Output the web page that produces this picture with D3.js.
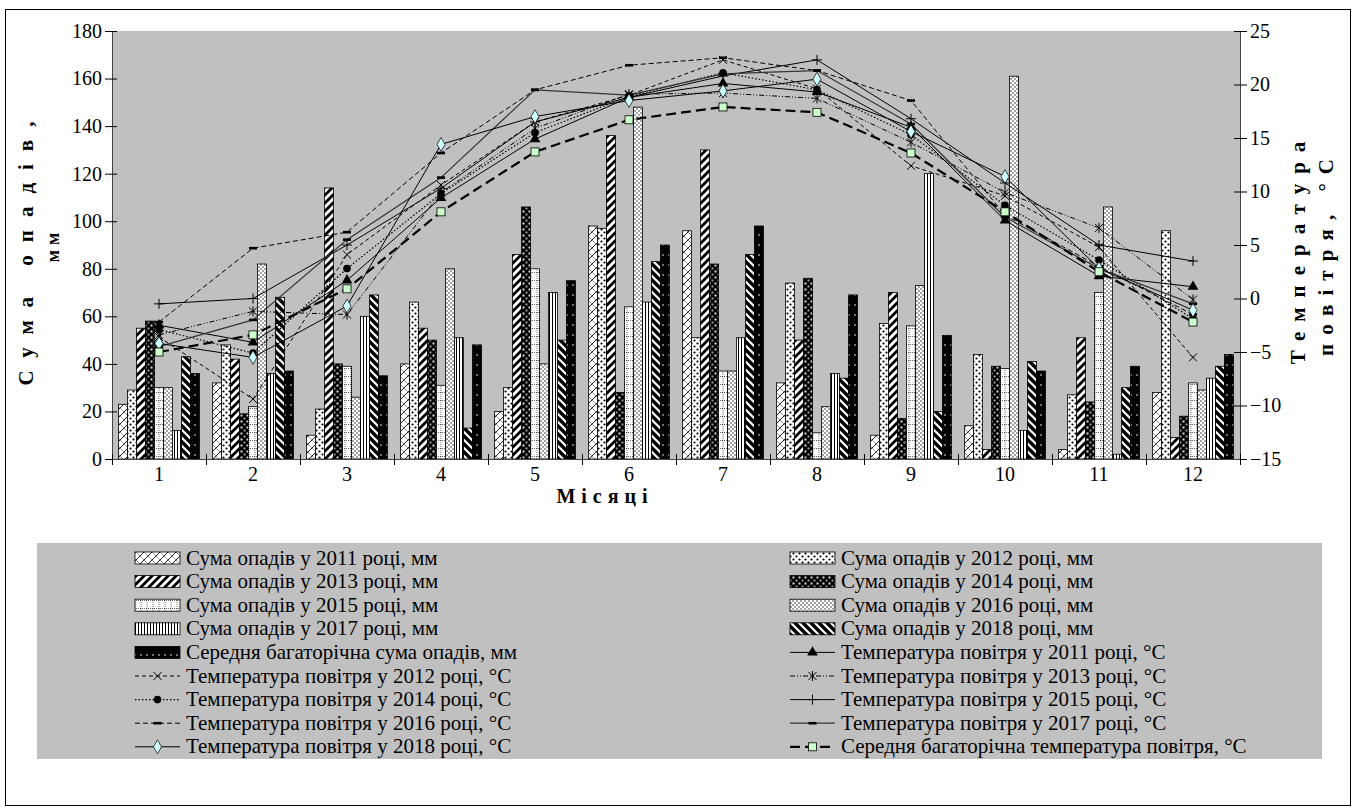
<!DOCTYPE html>
<html>
<head>
<meta charset="utf-8">
<script src="https://cdn.jsdelivr.net/npm/d3@7"></script>
<style>
body { margin: 0; background: #fff; }
svg { display: block; }
svg text { font-family: "Liberation Serif", "Times New Roman", "DejaVu Serif", serif !important; fill: #000; }
</style>
</head>
<body>
<svg id="chart" width="1357" height="812" font-family="Liberation Serif, serif"></svg>
<script>
// ---- data ----
const months = [1, 2, 3, 4, 5, 6, 7, 8, 9, 10, 11, 12];
const rainTicks = [0, 20, 40, 60, 80, 100, 120, 140, 160, 180];
const tempTicks = [-15, -10, -5, 0, 5, 10, 15, 20, 25];

const rain2011 = [23, 32, 10, 40, 20, 98, 96, 32, 10, 14, 4, 28];
const rain2012 = [29, 48, 21, 66, 30, 97, 51, 74, 57, 44, 27, 96];
const rain2013 = [55, 42, 114, 55, 86, 136, 130, 50, 70, 4, 51, 9];
const rain2014 = [58, 19, 40, 50, 106, 28, 82, 76, 17, 39, 24, 18];
const rain2015 = [30, 22, 39, 31, 80, 64, 37, 11, 56, 38, 70, 32];
const rain2016 = [30, 82, 26, 80, 40, 148, 37, 22, 73, 161, 106, 29];
const rain2017 = [12, 36, 60, 51, 70, 66, 51, 36, 120, 12, 2, 34];
const rain2018 = [43, 68, 69, 13, 50, 83, 86, 34, 20, 41, 30, 39];
const rainAvg  = [36, 37, 35, 48, 75, 90, 98, 69, 52, 37, 39, 44];

const temp2011 = [-2.5, -4.1, 1.7, 9.4, 14.9, 18.8, 20.1, 19.3, 16.0, 7.3, 2.1, 1.1];
const temp2012 = [-3.6, -9.4, 4.1, 10.6, 16.5, 19.0, 22.3, 19.6, 12.4, 9.6, 4.8, -5.5];
const temp2013 = [-3.4, -1.2, -1.5, 9.9, 15.9, 19.1, 19.2, 18.7, 14.6, 9.9, 6.6, -0.1];
const temp2014 = [-2.9, -5.1, 2.8, 9.8, 15.5, 18.9, 21.1, 19.5, 15.3, 8.7, 3.6, -1.9];
const temp2015 = [-0.5, 0.0, 5.0, 10.3, 16.5, 18.8, 20.8, 22.3, 16.8, 10.8, 5.0, 3.5];
const temp2016 = [-2.2, 4.7, 6.2, 13.6, 19.5, 21.8, 22.5, 21.3, 18.5, 7.8, 3.0, -1.5];
const temp2017 = [-4.5, -2.0, 5.5, 11.3, 19.5, 19.0, 21.0, 21.3, 16.3, 7.6, 2.8, -0.5];
const temp2018 = [-4.2, -5.5, -0.7, 14.4, 17.0, 18.5, 19.4, 20.5, 15.6, 11.4, 2.8, -1.1];
const tempAvg  = [-5.0, -3.4, 0.9, 8.1, 13.7, 16.7, 17.9, 17.4, 13.6, 8.1, 2.5, -2.2];

const barSeries = [
  {name: "Сума опадів у 2011 році, мм", values: rain2011, fill: "p2011"},
  {name: "Сума опадів у 2012 році, мм", values: rain2012, fill: "p2012"},
  {name: "Сума опадів у 2013 році, мм", values: rain2013, fill: "p2013"},
  {name: "Сума опадів у 2014 році, мм", values: rain2014, fill: "p2014"},
  {name: "Сума опадів у 2015 році, мм", values: rain2015, fill: "p2015"},
  {name: "Сума опадів у 2016 році, мм", values: rain2016, fill: "p2016"},
  {name: "Сума опадів у 2017 році, мм", values: rain2017, fill: "p2017"},
  {name: "Сума опадів у 2018 році, мм", values: rain2018, fill: "p2018"},
  {name: "Середня багаторічна сума опадів, мм", values: rainAvg, fill: "pavg"}
];
const lineSeries = [
  {name: "Температура повітря у 2011 році, °С", values: temp2011, dash: null, mark: "tri", color: "#000", w: 1},
  {name: "Температура повітря у 2012 році, °С", values: temp2012, dash: "4,3", mark: "x", color: "#000", w: 1},
  {name: "Температура повітря у 2013 році, °С", values: temp2013, dash: "5,2,1,2,1,2", mark: "star", color: "#000", w: 1},
  {name: "Температура повітря у 2014 році, °С", values: temp2014, dash: "1.5,2", mark: "circle", color: "#000", w: 1.2},
  {name: "Температура повітря у 2015 році, °С", values: temp2015, dash: null, mark: "plus", color: "#000", w: 1},
  {name: "Температура повітря у 2016 році, °С", values: temp2016, dash: "5,3", mark: "dash", color: "#000", w: 1},
  {name: "Температура повітря у 2017 році, °С", values: temp2017, dash: null, mark: "dash", color: "#333", w: 1.2},
  {name: "Температура повітря у 2018 році, °С", values: temp2018, dash: null, mark: "diamond", color: "#000", w: 1},
  {name: "Середня багаторічна температура повітря, °С", values: tempAvg, dash: "10,5", mark: "square", color: "#000", w: 2.2}
];

// ---- layout ----
const svg = d3.select("#chart");
const L = 112, R = 1240, T = 31, B = 459;
const FONT = "'Liberation Serif', 'Times New Roman', 'DejaVu Serif', serif";

const x0 = d3.scaleBand().domain(months).range([L, R]).paddingInner(0.14).paddingOuter(0.07);
const x1 = d3.scaleBand().domain(d3.range(barSeries.length)).range([0, x0.bandwidth()]);
const yR = d3.scaleLinear().domain([0, 180]).range([B, T]);
const yT = d3.scaleLinear().domain([-15, 25]).range([B, T]);
const xEdge = d3.scaleLinear().domain([0, 12]).range([L, R]);

// ---- patterns ----
const defs = svg.append("defs");
function pat(id, w, h, bg, draw) {
  const p = defs.append("pattern").attr("id", id)
    .attr("patternUnits", "userSpaceOnUse").attr("width", w).attr("height", h);
  p.append("rect").attr("width", w).attr("height", h).attr("fill", bg);
  draw(p);
}
pat("p2011", 8, 8, "#fff", p => {
  p.append("path").attr("d", "M0,8L8,0M-2,2L2,-2M6,10L10,6").attr("stroke", "#000").attr("stroke-width", 0.9);
  p.append("path").attr("d", "M0,0L8,8").attr("stroke", "#000").attr("stroke-width", 0.4);
});
pat("p2012", 6, 6, "#fff", p => {
  p.append("circle").attr("cx", 1.5).attr("cy", 1.5).attr("r", 1.1).attr("fill", "#000");
  p.append("circle").attr("cx", 4.5).attr("cy", 4.5).attr("r", 1.1).attr("fill", "#000");
});
pat("p2013", 8, 8, "#fff", p => {
  p.append("path").attr("d", "M0,8L8,0M-4,4L4,-4M4,12L12,4").attr("stroke", "#000").attr("stroke-width", 2.8);
});
pat("p2014", 6, 6, "#000", p => {
  p.append("rect").attr("x", 0.5).attr("y", 0.5).attr("width", 2).attr("height", 2).attr("fill", "#ddd");
  p.append("rect").attr("x", 3.5).attr("y", 3.5).attr("width", 2).attr("height", 2).attr("fill", "#999");
});
pat("p2015", 6, 8, "#fff", p => {
  p.append("path").attr("d", "M0,0.5H6M3,0V8").attr("stroke", "#000").attr("stroke-width", 0.6).attr("stroke-dasharray", "1,1");
});
pat("p2016", 4, 4, "#fff", p => {
  p.append("circle").attr("cx", 1).attr("cy", 1).attr("r", 0.7).attr("fill", "#000");
  p.append("circle").attr("cx", 3).attr("cy", 3).attr("r", 0.7).attr("fill", "#000");
});
pat("p2017", 3, 4, "#fff", p => {
  p.append("rect").attr("x", 0).attr("width", 1).attr("height", 4).attr("fill", "#000");
});
pat("p2018", 8, 8, "#000", p => {
  p.append("path").attr("d", "M0,0L8,8M-4,4L4,12M4,-4L12,4").attr("stroke", "#fff").attr("stroke-width", 2.2);
});
pat("pavg", 6, 10, "#000", p => {
  p.append("circle").attr("cx", 3).attr("cy", 5).attr("r", 0.8).attr("fill", "#fff");
});

// ---- frame + plot background ----
svg.append("rect").attr("x", 5.5).attr("y", 9.5).attr("width", 1345).attr("height", 796)
  .attr("fill", "#fff").attr("stroke", "#000");
svg.append("rect").attr("x", L).attr("y", T).attr("width", R - L).attr("height", B - T).attr("fill", "#c0c0c0");

// ---- bars ----
const barG = svg.append("g");
barSeries.forEach((s, si) => {
  barG.append("g").selectAll("rect").data(s.values).enter().append("rect")
    .attr("x", (d, i) => x0(months[i]) + x1(si))
    .attr("y", d => yR(d))
    .attr("width", x1.bandwidth())
    .attr("height", d => yR(0) - yR(d))
    .attr("fill", "url(#" + s.fill + ")")
    .attr("stroke", "#000").attr("stroke-width", 0.8);
});

// ---- markers ----
function marker(g, type, x, y) {
  if (type === "tri") {
    g.append("path").attr("d", d3.symbol(d3.symbolTriangle, 50)()).attr("transform", `translate(${x},${y})`).attr("fill", "#000");
  } else if (type === "circle") {
    g.append("circle").attr("cx", x).attr("cy", y).attr("r", 3.8).attr("fill", "#000");
  } else if (type === "diamond") {
    g.append("path").attr("d", d3.symbol(d3.symbolDiamond, 55)()).attr("transform", `translate(${x},${y})`)
      .attr("fill", "#ccffff").attr("stroke", "#000").attr("stroke-width", 0.7);
  } else if (type === "square") {
    g.append("rect").attr("x", x - 4).attr("y", y - 4).attr("width", 8).attr("height", 8)
      .attr("fill", "#ccffcc").attr("stroke", "#000").attr("stroke-width", 0.8);
  } else if (type === "x") {
    g.append("path").attr("d", `M${x-4},${y-4}L${x+4},${y+4}M${x-4},${y+4}L${x+4},${y-4}`).attr("stroke", "#000").attr("stroke-width", 1);
  } else if (type === "star") {
    g.append("path").attr("d", `M${x-4},${y-4}L${x+4},${y+4}M${x-4},${y+4}L${x+4},${y-4}M${x},${y-5}V${y+5}`).attr("stroke", "#000").attr("stroke-width", 1);
  } else if (type === "plus") {
    g.append("path").attr("d", `M${x-5},${y}H${x+5}M${x},${y-5}V${y+5}`).attr("stroke", "#000").attr("stroke-width", 1);
  } else if (type === "dash") {
    g.append("rect").attr("x", x - 4).attr("y", y - 1.3).attr("width", 8).attr("height", 2.6).attr("fill", "#000");
  }
}

// ---- lines ----
const xc = m => x0(m) + x0.bandwidth() / 2;
const line = d3.line().x((d, i) => xc(months[i])).y(d => yT(d));
const lineG = svg.append("g");
lineSeries.forEach(s => {
  lineG.append("path").datum(s.values).attr("d", line)
    .attr("fill", "none").attr("stroke", s.color).attr("stroke-width", s.w)
    .attr("stroke-dasharray", s.dash);
});
lineSeries.forEach(s => {
  const g = lineG.append("g");
  s.values.forEach((v, i) => marker(g, s.mark, xc(months[i]), yT(v)));
});

// ---- axes ----
const axL = svg.append("g").attr("transform", `translate(${L},0)`)
  .call(d3.axisLeft(yR).tickValues(rainTicks).tickSizeInner(7).tickSizeOuter(0).tickPadding(3));
axL.selectAll(".tick line").attr("x1", 5);
const axR = svg.append("g").attr("transform", `translate(${R},0)`)
  .call(d3.axisRight(yT).tickValues(tempTicks).tickSizeInner(7).tickSizeOuter(0).tickPadding(3));
axR.selectAll(".tick line").attr("x1", -6);
const axB = svg.append("g").attr("transform", `translate(0,${B})`)
  .call(d3.axisBottom(xEdge).tickValues(d3.range(0, 13)).tickFormat("").tickSizeInner(6).tickSizeOuter(0));
axB.selectAll(".tick line").attr("y1", -5);
[axL, axR, axB].forEach(a => {
  a.attr("font-family", FONT).attr("font-size", 20);
  a.select(".domain").attr("stroke", "#444");
  a.selectAll(".tick line").attr("stroke", "#000");
  a.selectAll("text").attr("fill", "#000");
});
svg.append("g").selectAll("text").data(months).enter().append("text")
  .attr("x", d => xc(d)).attr("y", 481).attr("text-anchor", "middle")
  .attr("font-family", FONT).attr("font-size", 20).text(d => d);

// ---- titles ----
function title(tr, size, spacing, txt) {
  svg.append("text").attr("transform", tr).attr("text-anchor", "middle")
    .attr("font-family", FONT).attr("font-size", size).attr("font-weight", "bold")
    .style("letter-spacing", spacing + "px").text(txt);
}
title("translate(605,503)", 20, 6, "Місяці");
title("translate(33,247) rotate(-90)", 21, 13, "Сума опадів,");
title("translate(59,245) rotate(-90)", 18, 5, "мм");
title("translate(1305,248) rotate(-90)", 21, 10, "Температура");
title("translate(1333,253) rotate(-90)", 21, 9, "повітря, °С");

// ---- legend ----
svg.append("rect").attr("x", 37).attr("y", 543).attr("width", 1285).attr("height", 216).attr("fill", "#c0c0c0");
const items = barSeries.map(s => Object.assign({kind: "bar"}, s)).concat(lineSeries.map(s => Object.assign({kind: "line"}, s)));
const colX = [135, 790];
items.forEach((it, i) => {
  const sx = colX[i % 2], cy = 558 + Math.floor(i / 2) * 23.6;
  const g = svg.append("g");
  if (it.kind === "bar") {
    g.append("rect").attr("x", sx).attr("y", cy - 6).attr("width", 45).attr("height", 12)
      .attr("fill", "url(#" + it.fill + ")").attr("stroke", "#000").attr("stroke-width", 0.8);
  } else {
    g.append("line").attr("x1", sx).attr("x2", sx + 45).attr("y1", cy).attr("y2", cy)
      .attr("stroke", it.color).attr("stroke-width", it.w).attr("stroke-dasharray", it.dash);
    marker(g, it.mark, sx + 22.5, cy);
  }
  g.append("text").attr("x", sx + 51).attr("y", cy + 6.5)
    .attr("font-family", FONT).attr("font-size", 21).text(it.name);
});
</script>
</body>
</html>
